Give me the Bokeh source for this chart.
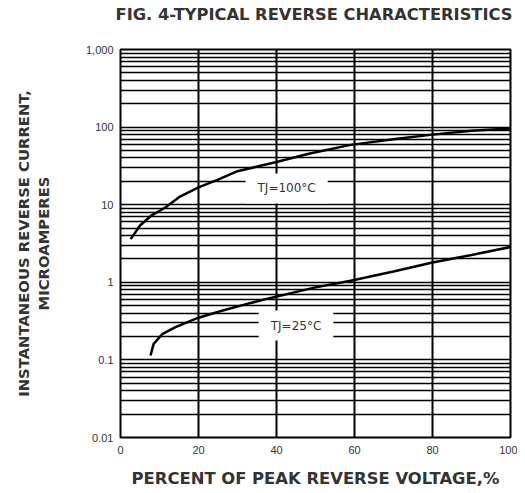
from bokeh.plotting import figure
from bokeh.models import Range1d, FixedTicker, Label, Title
from bokeh.embed import file_html
from bokeh.resources import INLINE

# ---- data ----
x_ticks = [0, 20, 40, 60, 80, 100]
y_ticks = [0.01, 0.1, 1, 10, 100, 1000]
y_tick_labels = ["0.01", "0.1", "1", "10", "100", "1,000"]
y_minor_mult = [2, 3, 4, 5, 6, 7, 8, 9]

# TJ = 100 C curve
v_100 = [2.6, 5, 8, 11.5, 15, 20, 25, 30, 40, 48, 59, 71, 80, 90, 100]
i_100 = [3.6, 5.4, 7.3, 9.2, 12.5, 16.7, 21, 27, 35.5, 45, 59, 71, 80, 90, 96]

# TJ = 25 C curve
v_25 = [7.7, 8.5, 10.8, 14.1, 20, 26, 32, 38, 44, 50, 59, 70, 80, 90, 100]
i_25 = [0.114, 0.161, 0.217, 0.264, 0.35, 0.43, 0.52, 0.62, 0.73, 0.86, 1.05, 1.38, 1.8, 2.25, 2.85]

label_100 = ("TJ=100°C", 42.6, 16.2)
label_25 = ("TJ=25°C", 45, 0.277)
title_text = "FIG. 4-TYPICAL REVERSE CHARACTERISTICS"

FONT = "Liberation Sans"
BOLD_FONT = "DejaVu Sans"
TXT = "#333333"

y_minor = [m * t for t in y_ticks[:-1] for m in y_minor_mult]

p = figure(width=517, height=490, output_backend="svg", toolbar_location=None,
           y_axis_type="log", title=None,
           x_range=Range1d(0, 100), y_range=Range1d(0.01, 1000),
           min_border_left=120, min_border_right=7, min_border_top=49, min_border_bottom=40)

# blank spacer title next to the frame, then the chart title outside it
p.add_layout(Title(text=" ", text_font_size="2px", standoff=22), "above")
p.add_layout(Title(text=title_text, align="right", offset=-2, standoff=0,
                   text_font=BOLD_FONT, text_font_style="bold", text_font_size="16.3px",
                   text_color=TXT), "above")

p.outline_line_color = "black"
p.outline_line_width = 2

# axes
p.xaxis.ticker = FixedTicker(ticks=x_ticks)
p.yaxis.ticker = FixedTicker(ticks=y_ticks, minor_ticks=y_minor)
p.yaxis.major_label_overrides = {t: l for t, l in zip(y_ticks, y_tick_labels)}
for ax in (p.xaxis[0], p.yaxis[0]):
    ax.axis_line_color = None
    ax.major_tick_line_color = None
    ax.minor_tick_line_color = None
    ax.major_tick_out = 0
    ax.major_tick_in = 0
    ax.minor_tick_out = 0
    ax.minor_tick_in = 0
    ax.major_label_text_font = FONT
    ax.major_label_text_font_size = "11px"
    ax.major_label_text_color = TXT
    ax.axis_label_text_font = BOLD_FONT
    ax.axis_label_text_font_style = "bold"
    ax.axis_label_text_color = TXT

p.xaxis.axis_label = "PERCENT OF PEAK REVERSE VOLTAGE,%"
p.xaxis.axis_label_text_font_size = "16.4px"
p.xaxis.major_label_standoff = 8
p.xaxis.axis_label_standoff = 12
p.yaxis.axis_label = "INSTANTANEOUS REVERSE CURRENT,\nMICROAMPERES"
p.yaxis.axis_label_text_font_size = "14.8px"
p.yaxis.major_label_standoff = 7
p.yaxis.axis_label_standoff = 31

# grids
p.xgrid.ticker = FixedTicker(ticks=x_ticks)
p.xgrid.grid_line_color = "black"
p.xgrid.grid_line_width = 2
p.ygrid.ticker = FixedTicker(ticks=y_ticks, minor_ticks=y_minor)
p.ygrid.grid_line_color = "black"
p.ygrid.grid_line_width = 1.5
p.ygrid.minor_grid_line_color = "black"
p.ygrid.minor_grid_line_width = 1.5

# curves
p.line(v_100, i_100, line_color="black", line_width=2.5)
p.line(v_25, i_25, line_color="black", line_width=2.5)

for txt, lx, ly in (label_100, label_25):
    p.add_layout(Label(x=lx, y=ly, text=txt, text_align="center", text_baseline="middle",
                       text_font=BOLD_FONT, text_font_size="12px", text_color=TXT,
                       background_fill_color="white", padding=(12, 8)))

open("out.html", "w").write(file_html(p, INLINE))
